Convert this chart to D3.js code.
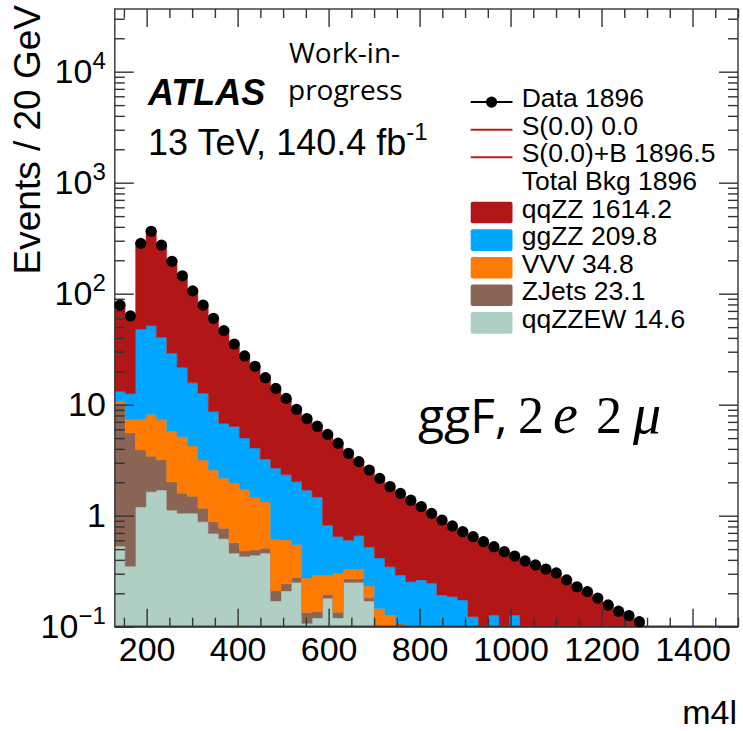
<!DOCTYPE html>
<html>
<head>
<meta charset="utf-8">
<script src="https://cdn.jsdelivr.net/npm/d3@7"></script>
<style>
  body { margin: 0; background: #fff; }
  svg { display: block; font-family: "Liberation Sans", Arial, Helvetica, sans-serif; }
</style>
</head>
<body>
<svg id="chart" width="743" height="731"></svg>
<script>
// binning of the m4l histogram
const xMin = 130, xMax = 1500, nBins = 60;

// events per bin
const dataEvents = [79, 63, 284, 365, 274, 196, 145, 106, 79, 60,
    46.5, 35.2, 27.5, 22.2, 17.5, 14.0, 11.4, 9.1, 7.5, 6.4,
    5.4, 4.5, 3.65, 3.07, 2.58, 2.17, 1.83, 1.59, 1.38, 1.21,
    1.05, 0.915, 0.808, 0.718, 0.647, 0.583, 0.526, 0.474, 0.433, 0.391,
    0.360, 0.331, 0.305, 0.264, 0.229, 0.207, 0.181, 0.157, 0.138, 0.126,
    0.111];

const qqZZ = [65.9, 50.5, 236, 313, 233.5, 167, 123.4, 90.3, 66.3, 51.3,
    39.7, 28.8, 22.5, 18.1, 14.3, 11.3, 9.07, 7.08, 5.81, 4.93,
    4.58, 3.86, 3.05, 2.41, 2.06, 1.75, 1.48, 1.30, 1.13, 0.95,
    0.80, 0.72, 0.62, 0.544, 0.524, 0.583, 0.40, 0.474, 0.306, 0.391,
    0.360, 0.331, 0.305, 0.264, 0.229, 0.207, 0.181, 0.157, 0.138, 0.126,
    0.111, 0, 0, 0, 0, 0, 0, 0, 0, 0];

const ggZZ = [2.5, 5.1, 40.4, 43.4, 33.2, 23.3, 16.5, 11.5, 9.5, 6.1,
    4.6, 4.4, 3.3, 2.6, 1.9, 2.07, 1.73, 1.47, 1.42, 1.18,
    0.53, 0.34, 0.27, 0.33, 0.29, 0.27, 0.22, 0.185, 0.254, 0.264,
    0.246, 0.193, 0.186, 0.174, 0.123, 0, 0.127, 0, 0.127, 0,
    0, 0, 0, 0, 0, 0, 0, 0, 0, 0,
    0, 0, 0, 0, 0, 0, 0, 0, 0, 0];

const VVV = [0.3, 1.9, 3.5, 4.7, 4.1, 3.7, 3.56, 2.75, 2.0, 1.7,
    1.4, 1.4, 1.23, 0.98, 0.82, 0.4, 0.36, 0.27, 0.14, 0.156,
    0.095, 0.17, 0.06, 0.06, 0.052, 0.146, 0.127, 0, 0, 0,
    0, 0, 0, 0, 0, 0, 0, 0, 0, 0,
    0, 0, 0, 0, 0, 0, 0, 0, 0, 0,
    0, 0, 0, 0, 0, 0, 0, 0, 0, 0];

const ZJets = [9.8, 5.2, 2.7, 1.8, 1.5, 0.9, 0.54, 0.45, 0.29, 0.19,
    0.15, 0.11, 0.05, 0.05, 0.05, 0.04, 0.034, 0.027, 0.027, 0.017,
    0.015, 0.015, 0.02, 0.02, 0.011, 0, 0, 0.107, 0, 0,
    0, 0, 0, 0, 0, 0, 0, 0, 0, 0,
    0, 0, 0, 0, 0, 0, 0, 0, 0, 0,
    0, 0, 0, 0, 0, 0, 0, 0, 0, 0];

const qqZZEW = [0.53, 0.35, 1.2, 1.64, 1.7, 1.12, 1.05, 1.05, 0.88, 0.69,
    0.62, 0.46, 0.43, 0.44, 0.46, 0.17, 0.21, 0.25, 0.107, 0.12,
    0.18, 0.12, 0.25, 0.25, 0.17, 0, 0, 0, 0, 0,
    0, 0, 0, 0, 0, 0, 0, 0, 0, 0,
    0, 0, 0, 0, 0, 0, 0, 0, 0, 0,
    0, 0, 0, 0, 0, 0, 0, 0, 0, 0];

// stacking order, bottom first
const stackKeys = ["qqZZEW", "ZJets", "VVV", "ggZZ", "qqZZ"];
const colors = {qqZZ: "#b31616", ggZZ: "#00a6ff", VVV: "#ff7a00", ZJets: "#8a6556", qqZZEW: "#afcfc5"};

const legendLabels = ["Data 1896", "S(0.0) 0.0", "S(0.0)+B 1896.5", "Total Bkg 1896",
    "qqZZ 1614.2", "ggZZ 209.8", "VVV 34.8", "ZJets 23.1", "qqZZEW 14.6"];
const legendKinds = ["marker", "line", "line", "none", "qqZZ", "ggZZ", "VVV", "ZJets", "qqZZEW"];

const xTickValues = [200, 400, 600, 800, 1000, 1200, 1400];
const yTickValues = [0.1, 1, 10, 100, 1000, 10000];
const yTickLabels = [["10", "\u22121"], ["1", ""], ["10", ""], ["10", "2"], ["10", "3"], ["10", "4"]];

const svg = d3.select("#chart");
svg.append("rect").attr("width", 743).attr("height", 731).attr("fill", "#fff");

const x = d3.scaleLinear().domain([xMin, xMax]).range([114.8, 738]);
const y = d3.scaleLog().domain([0.1, 36700]).range([626.7, 9]);
const yFloor = y.domain()[0];
const binW = (xMax - xMin) / nBins;

svg.append("clipPath").attr("id", "plotclip")
    .append("rect")
    .attr("x", x(xMin)).attr("y", y.range()[1])
    .attr("width", x(xMax) - x(xMin)).attr("height", y.range()[0] - y.range()[1]);

// stacked backgrounds
const series = {qqZZ, ggZZ, VVV, ZJets, qqZZEW};
const rows = d3.range(nBins).map(function (i) {
    const r = {lo: xMin + i * binW, hi: xMin + (i + 1) * binW};
    stackKeys.forEach(k => r[k] = series[k][i]);
    return r;
});
const stacked = d3.stack().keys(stackKeys)(rows);

const area = d3.area()
    .x(d => x(d.xe))
    .y0(d => y(Math.max(d.v0, yFloor)))
    .y1(d => y(Math.max(d.v1, yFloor)));

const gStack = svg.append("g").attr("clip-path", "url(#plotclip)");
stacked.forEach(function (layer) {
    const pts = [];
    layer.forEach(function (s) {
        pts.push({xe: s.data.lo, v0: s[0], v1: s[1]});
        pts.push({xe: s.data.hi, v0: s[0], v1: s[1]});
    });
    gStack.append("path").datum(pts)
        .attr("fill", colors[layer.key])
        .attr("stroke", colors[layer.key])
        .attr("stroke-width", 0.4)
        .attr("d", area);
});

// signal (zero) drawn along the bottom
svg.append("line")
    .attr("x1", x(xMin)).attr("x2", x(xMax))
    .attr("y1", y(yFloor)).attr("y2", y(yFloor))
    .attr("stroke", "#a52020").attr("stroke-width", 2.2);

// frame
svg.append("rect")
    .attr("x", x(xMin)).attr("y", y.range()[1])
    .attr("width", x(xMax) - x(xMin)).attr("height", y.range()[0] - y.range()[1])
    .attr("fill", "none").attr("stroke", "#333").attr("stroke-width", 1.4);

// ticks
const xMinor = d3.range(150, xMax + 1, 50).filter(v => xTickValues.indexOf(v) < 0);
const yMinor = [];
yTickValues.forEach(function (dec) {
    d3.range(2, 10).forEach(m => { if (m * dec < y.domain()[1]) yMinor.push(m * dec); });
});

function styleAxis(g) {
    g.select(".domain").remove();
    g.selectAll(".tick line").attr("stroke", "#333").attr("stroke-width", 1.4);
    g.attr("font-family", null).attr("font-size", null);
}

const xBottom = svg.append("g").attr("transform", "translate(0," + y(yFloor) + ")")
    .call(d3.axisBottom(x).tickValues(xTickValues).tickSizeInner(-18).tickSizeOuter(0)
        .tickPadding(10).tickFormat(d3.format("d")))
    .call(styleAxis);
xBottom.selectAll(".tick text").attr("font-size", 34).attr("fill", "#000");

svg.append("g").attr("transform", "translate(0," + y(yFloor) + ")")
    .call(d3.axisBottom(x).tickValues(xMinor).tickSizeInner(-9).tickSizeOuter(0).tickFormat(""))
    .call(styleAxis);
svg.append("g").attr("transform", "translate(0," + y.range()[1] + ")")
    .call(d3.axisTop(x).tickValues(xTickValues).tickSizeInner(-18).tickSizeOuter(0).tickFormat(""))
    .call(styleAxis);
svg.append("g").attr("transform", "translate(0," + y.range()[1] + ")")
    .call(d3.axisTop(x).tickValues(xMinor).tickSizeInner(-9).tickSizeOuter(0).tickFormat(""))
    .call(styleAxis);

const yLeft = svg.append("g").attr("transform", "translate(" + x(xMin) + ",0)")
    .call(d3.axisLeft(y).tickValues(yTickValues).tickSizeInner(-19).tickSizeOuter(0).tickPadding(9))
    .call(styleAxis);
yLeft.selectAll(".tick text").each(function (d, i) {
    const t = d3.select(this).text("").attr("font-size", 34).attr("fill", "#000");
    t.append("tspan").text(yTickLabels[i][0]);
    if (yTickLabels[i][1]) {
        t.append("tspan").attr("dy", -14).attr("font-size", 24).text(yTickLabels[i][1]);
    }
});
svg.append("g").attr("transform", "translate(" + x(xMin) + ",0)")
    .call(d3.axisLeft(y).tickValues(yMinor).tickSizeInner(-10).tickSizeOuter(0).tickFormat(""))
    .call(styleAxis);
svg.append("g").attr("transform", "translate(" + x(xMax) + ",0)")
    .call(d3.axisRight(y).tickValues(yTickValues).tickSizeInner(-19).tickSizeOuter(0).tickFormat(""))
    .call(styleAxis);
svg.append("g").attr("transform", "translate(" + x(xMax) + ",0)")
    .call(d3.axisRight(y).tickValues(yMinor).tickSizeInner(-10).tickSizeOuter(0).tickFormat(""))
    .call(styleAxis);

// data points
svg.append("g").selectAll("circle")
    .data(dataEvents.map((v, i) => ({c: xMin + (i + 0.5) * binW, v: v})).filter(d => d.v > 0))
    .join("circle")
    .attr("cx", d => x(d.c))
    .attr("cy", d => y(d.v))
    .attr("r", 5.6)
    .attr("fill", "#000");

// axis titles
svg.append("text")
    .attr("x", 737).attr("y", 724)
    .attr("text-anchor", "end").attr("font-size", 34)
    .text("m4l");
svg.append("text")
    .attr("transform", "translate(40,5) rotate(-90)")
    .attr("text-anchor", "end").attr("font-size", 37)
    .text("Events / 20 GeV");

// ATLAS label
svg.append("text")
    .attr("x", 148).attr("y", 105)
    .attr("font-size", 36).attr("font-weight", "bold").attr("font-style", "italic")
    .text("ATLAS");
const lumi = svg.append("text").attr("x", 148).attr("y", 155).attr("font-size", 36);
lumi.append("tspan").text("13 TeV, 140.4 fb");
lumi.append("tspan").attr("dy", -15).attr("font-size", 24).text("-1");

svg.append("text")
    .attr("x", 289).attr("y", 63)
    .attr("font-family", "'Open Sans', 'Noto Sans', sans-serif").attr("font-size", 28)
    .text("Work-in-");
svg.append("text")
    .attr("x", 288).attr("y", 100)
    .attr("font-family", "'Open Sans', 'Noto Sans', sans-serif").attr("font-size", 28)
    .text("progress");

// channel label
const serif = "'Liberation Serif', 'DejaVu Serif', serif";
const chan = svg.append("text").attr("y", 433).attr("font-size", 48);
chan.append("tspan").attr("x", 418).attr("font-family", "'Open Sans', 'Noto Sans', sans-serif").text("ggF,");
chan.append("tspan").attr("x", 518).attr("font-family", serif).attr("font-size", 52).text("2");
chan.append("tspan").attr("x", 553).attr("font-family", serif)
    .attr("font-style", "italic").attr("font-size", 56).text("e");
chan.append("tspan").attr("x", 596).attr("font-family", serif).attr("font-size", 52).text("2");
chan.append("tspan").attr("x", 633).attr("font-family", serif)
    .attr("font-style", "italic").attr("font-size", 56).text("\u03bc");

// legend
const legY0 = 102.1, legStep = 27.6, symX0 = 470.7, symX1 = 512.5, legTextX = 521.7;
const leg = svg.append("g").selectAll("g")
    .data(legendLabels.map((l, i) => ({label: l, kind: legendKinds[i], yc: legY0 + i * legStep})))
    .join("g");
leg.append("text")
    .attr("x", legTextX).attr("y", d => d.yc + 5)
    .attr("font-size", 26.5)
    .text(d => d.label);
leg.filter(d => d.kind === "marker").each(function (d) {
    const g = d3.select(this);
    g.append("line").attr("x1", symX0).attr("x2", symX1).attr("y1", d.yc).attr("y2", d.yc)
        .attr("stroke", "#000").attr("stroke-width", 2);
    g.append("circle").attr("cx", (symX0 + symX1) / 2).attr("cy", d.yc).attr("r", 5.6).attr("fill", "#000");
});
leg.filter(d => d.kind === "line").append("line")
    .attr("x1", symX0).attr("x2", symX1).attr("y1", d => d.yc).attr("y2", d => d.yc)
    .attr("stroke", "#b01e1e").attr("stroke-width", 2);
leg.filter(d => colors[d.kind] !== undefined).append("rect")
    .attr("x", symX0).attr("y", d => d.yc - 10.8)
    .attr("width", symX1 - symX0).attr("height", 21.6)
    .attr("rx", 2)
    .attr("fill", d => colors[d.kind]);
</script>
</body>
</html>
